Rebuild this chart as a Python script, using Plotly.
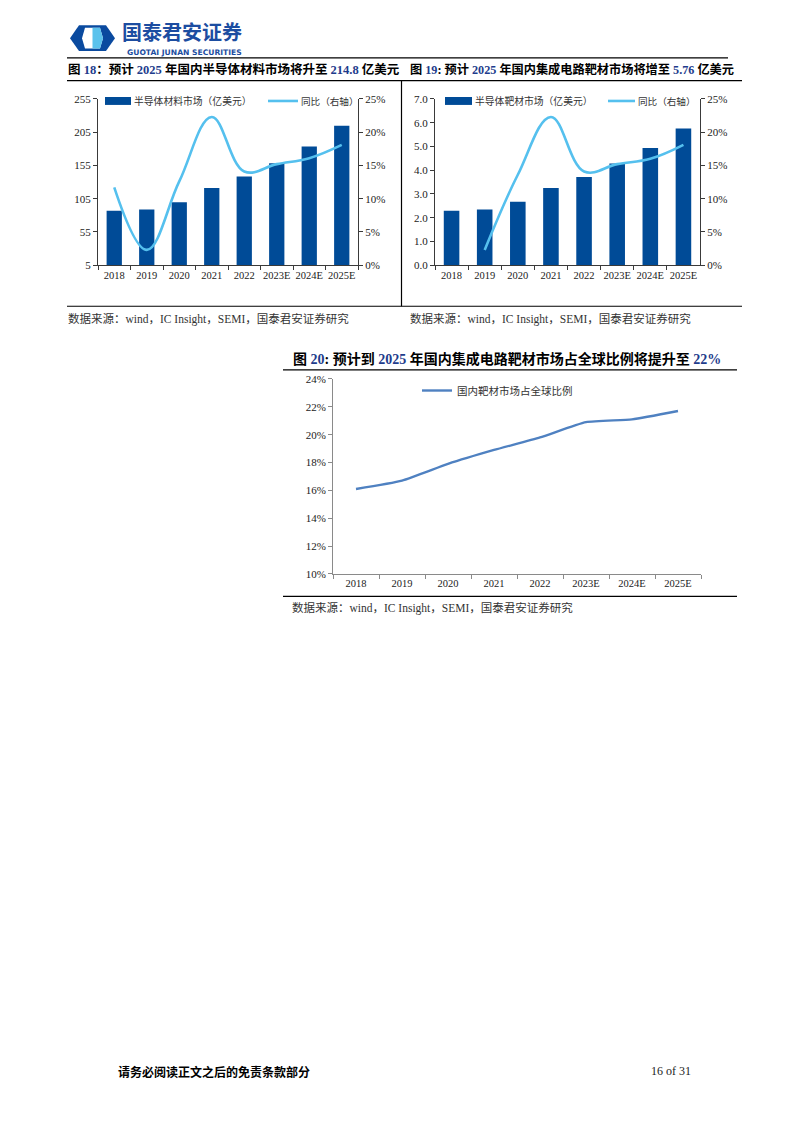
import plotly.graph_objects as go

# ---------------- data ----------------
years = ["2018", "2019", "2020", "2021", "2022", "2023E", "2024E", "2025E"]

# Fig 18: semiconductor materials market (100M USD) and YoY (%)
materials_market = [86.8, 88.8, 99.7, 121.0, 138.4, 158.3, 183.6, 214.8]
materials_yoy = [11.7, 2.3, 12.6, 22.3, 14.1, 15.2, 16.1, 18.1]

# Fig 19: IC target market (100M USD) and YoY (%)
target_market = [2.29, 2.35, 2.67, 3.25, 3.71, 4.28, 4.94, 5.76]
target_yoy = [None, 2.3, 13.6, 22.3, 14.1, 15.2, 16.0, 18.1]

# Fig 20: domestic target share of global (%)
target_share = [16.1, 16.7, 17.9, 18.9, 19.8, 20.9, 21.1, 21.7]

left18_ticks = [5, 55, 105, 155, 205, 255]
left19_ticks = [0, 1, 2, 3, 4, 5, 6, 7]
yoy_ticks = [0, 5, 10, 15, 20, 25]
share_ticks = [10, 12, 14, 16, 18, 20, 22, 24]

# ---------------- styles ----------------
W, H = 794, 1123
BAR = "#004B97"
LINE = "#55C0EE"
LINE20 = "#4F81C1"
AX = "#3a3a3a"
AX20 = "#8a8a8a"
SERIF = "Liberation Serif, Noto Sans CJK SC, serif"
CJK = "Noto Sans CJK SC, sans-serif"
TXT = "#222222"


def px(x):
    return x / W


def py(y):
    return 1 - y / H


fig = go.Figure()

# Fig 18
fig.add_trace(go.Bar(x=years, y=materials_market, name="半导体材料市场（亿美元）",
                     marker=dict(color=BAR, line=dict(width=0)), xaxis="x", yaxis="y",
                     showlegend=False, width=0.47))
fig.add_trace(go.Scatter(x=years, y=materials_yoy, name="同比（右轴）", mode="lines",
                         line=dict(color=LINE, width=2.6, shape="spline", smoothing=1.1),
                         xaxis="x", yaxis="y2", showlegend=False))
# Fig 19
fig.add_trace(go.Bar(x=years, y=target_market, name="半导体靶材市场（亿美元）",
                     marker=dict(color=BAR, line=dict(width=0)), xaxis="x2", yaxis="y3",
                     showlegend=False, width=0.47))
fig.add_trace(go.Scatter(x=years, y=target_yoy, name="同比（右轴）", mode="lines",
                         line=dict(color=LINE, width=2.6, shape="spline", smoothing=1.1),
                         connectgaps=False, xaxis="x2", yaxis="y4", showlegend=False))
# Fig 20
fig.add_trace(go.Scatter(x=years, y=target_share, name="国内靶材市场占全球比例", mode="lines",
                         line=dict(color=LINE20, width=2.4, shape="spline", smoothing=0.5),
                         xaxis="x3", yaxis="y5", legend="legend3"))

tickfont = dict(family=SERIF, size=10.5, color=TXT)


def xcat(domain, anchor, color):
    return dict(domain=domain, anchor=anchor, type="category", range=[-0.5, 7.5],
                showline=True, linecolor=color, linewidth=1, ticks="outside",
                tickson="boundaries", ticklen=4, tickcolor=color, showgrid=False,
                tickangle=0, tickfont=tickfont, fixedrange=True)


def yax(domain, anchor, rng, vals, texts, color, side="left", overlaying=None):
    d = dict(domain=domain, anchor=anchor, range=rng, tickvals=vals, ticktext=texts,
             showline=True, linecolor=color, linewidth=1, ticks="outside", ticklen=4,
             tickcolor=color, showgrid=False, zeroline=False, side=side,
             tickfont=dict(family=SERIF, size=11, color=TXT), fixedrange=True)
    if overlaying:
        d["overlaying"] = overlaying
    return d


d18x = [px(98), px(358)]
d19x = [px(435), px(700)]
d1y = [py(262), py(94)]
d20x = [px(333), px(701)]
d20y = [py(574), py(377)]

fig.update_layout(
    width=W, height=H,
    margin=dict(l=0, r=0, t=0, b=0),
    paper_bgcolor="white", plot_bgcolor="rgba(0,0,0,0)",
    bargap=0.53,
    xaxis=xcat(d18x, "y", AX),
    yaxis=yax(d1y, "x", [5, 255], left18_ticks, [str(v) for v in left18_ticks], AX),
    yaxis2=yax(d1y, "x", [0, 25], yoy_ticks, [f"{v}%" for v in yoy_ticks], AX,
               side="right", overlaying="y"),
    xaxis2=xcat(d19x, "y3", AX),
    yaxis3=yax(d1y, "x2", [0, 7], left19_ticks, [f"{v:.1f}" for v in left19_ticks], AX),
    yaxis4=yax(d1y, "x2", [0, 25], yoy_ticks, [f"{v}%" for v in yoy_ticks], AX,
               side="right", overlaying="y3"),
    xaxis3=xcat(d20x, "y5", AX20),
    yaxis5=yax(d20y, "x3", [10, 24], share_ticks, [f"{v}%" for v in share_ticks], AX20),
    legend3=dict(x=px(417), y=py(374), xanchor="left", yanchor="top", orientation="h",
                 bgcolor="rgba(0,0,0,0)", font=dict(family=CJK, size=10.5, color="#333"),
                 itemwidth=30),
    showlegend=True,
)

shapes = []


def hline(x0, x1, y, color="black", w=1):
    shapes.append(dict(type="line", xref="paper", yref="paper", x0=px(x0), x1=px(x1),
                       y0=py(y), y1=py(y), line=dict(color=color, width=w)))


def vline(x, y0, y1, color="black", w=1):
    shapes.append(dict(type="line", xref="paper", yref="paper", x0=px(x), x1=px(x),
                       y0=py(y0), y1=py(y1), line=dict(color=color, width=w)))


def rect(x0, y0, x1, y1, color):
    shapes.append(dict(type="rect", xref="paper", yref="paper", x0=px(x0), x1=px(x1),
                       y0=py(y0), y1=py(y1), fillcolor=color, line=dict(width=0)))


hline(67, 728, 52.5, w=1.2)
hline(67, 742, 75.5, w=1.2)
hline(67, 742, 303.5, w=1.2)
vline(401.5, 75.5, 303.5, w=1.2)
hline(283, 737, 367.8, w=1.2)
hline(283, 737, 596.8, w=1.2)

# manual legends for fig 18 / 19
rect(105, 92, 131, 100, BAR)
hline(268, 298, 96, color=LINE, w=2.6)
rect(445, 92, 472, 100, BAR)
hline(608, 635, 96, color=LINE, w=2.6)


# logo
def path_from(points):
    s = "M " + " L ".join(f"{px(x)},{py(y)}" for x, y in points) + " Z"
    return s


shapes.append(dict(type="path", xref="paper", yref="paper",
                   path=path_from([(79, 19.5), (106, 19.5), (115, 32.5), (106, 45.5), (79, 45.5), (70, 32.5)]),
                   fillcolor="#0A4A9F", line=dict(width=0)))
shapes.append(dict(type="path", xref="paper", yref="paper",
                   path=path_from([(85, 22), (100, 22), (103, 32.5), (100, 43), (85, 43), (82, 32.5)]),
                   fillcolor="white", line=dict(width=0)))
shapes.append(dict(type="path", xref="paper", yref="paper",
                   path=path_from([(92.5, 22), (100, 22), (103, 32.5), (100, 43), (92.5, 43)]),
                   fillcolor="#5BC2EC", line=dict(width=0)))
fig.update_layout(shapes=shapes)

ann = []


def text(x, y, s, size, family=CJK, color=TXT, xanchor="left", bold=False, yanchor="middle"):
    if bold:
        s = f"<b>{s}</b>"
    ann.append(dict(x=px(x), y=py(y), xref="paper", yref="paper", text=s, showarrow=False,
                    xanchor=xanchor, yanchor=yanchor, borderpad=0,
                    font=dict(family=family, size=size, color=color)))


NUM = "#1E3C8C"


def n(s):
    return f"<span style='color:{NUM}'>{s}</span>"


text(121, 41, "国泰君安证券", 20, family=CJK, color="#1C4DA1", bold=True, yanchor="bottom")
text(126, 41.5, "GUOTAI JUNAN SECURITIES", 7.6, family="DejaVu Sans, sans-serif",
     color="#1C4DA1", bold=True, yanchor="top")

text(67, 64, f"图 {n('18')}：预计 {n('2025')} 年国内半导体材料市场将升至 {n('214.8')} 亿美元", 12.5,
     family=SERIF, color="black", bold=True)
text(409, 64, f"图 {n('19')}: 预计 {n('2025')} 年国内集成电路靶材市场将增至 {n('5.76')} 亿美元", 12.2,
     family=SERIF, color="black", bold=True)
text(292, 357, f"图 {n('20')}: 预计到 {n('2025')} 年国内集成电路靶材市场占全球比例将提升至 {n('22%')}", 14,
     family=SERIF, color="black", bold=True)

# legends (text)
text(133, 96, "半导体材料市场（亿美元）", 9.8, color="#333")
text(300, 96, "同比（右轴）", 9.6, color="#333")
text(474, 96, "半导体靶材市场（亿美元）", 9.8, color="#333")
text(637, 96, "同比（右轴）", 9.6, color="#333")

src = "数据来源：wind，IC Insight，SEMI，国泰君安证券研究"
text(67, 316, src, 11.5, family=SERIF, color="#333")
text(409, 316, src, 11.5, family=SERIF, color="#333")
text(291, 609, src, 11.5, family=SERIF, color="#333")

text(117, 1077, "请务必阅读正文之后的免责条款部分", 12, family=CJK, color="black", bold=True)
text(692, 1077, "16 of 31", 12, family=SERIF, color="#222", xanchor="right")

fig.update_layout(annotations=ann)

fig.write_html("out.html")
